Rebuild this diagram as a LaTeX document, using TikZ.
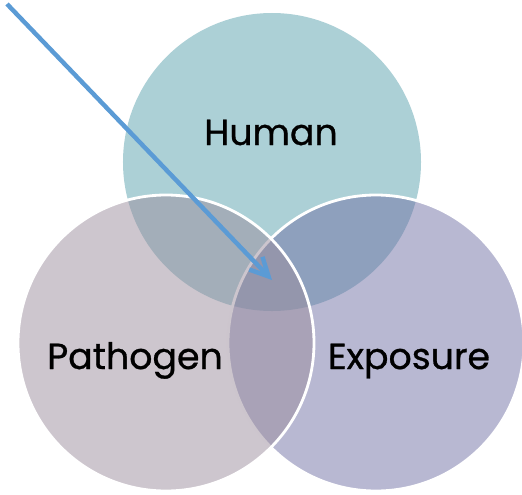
\documentclass[tikz,border=0pt]{standalone}
\usepackage{fontspec}
\setmainfont{Poppins}
\newfontfamily\tagfont{Poppins}[FakeBold=0.8]
\definecolor{HumanTeal}{RGB}{90, 161, 173}
\definecolor{PathoMauve}{RGB}{155, 141, 157}
\definecolor{ExpoLilac}{RGB}{113, 113, 165}
\definecolor{ArrowBlue}{RGB}{91, 155, 213}
\usetikzlibrary{arrows.meta}

\begin{document}
\begin{tikzpicture}[
    x=0.03cm, y=-0.03cm,
    ring/.style={circle, inner sep=0pt, minimum size=8.88cm, fill opacity=0.5,
                 draw=white, line width=2.4pt},
    tag/.style={anchor=base, font=\tagfont\fontsize{31}{36}\selectfont, text=black}
]
\useasboundingbox (0,0) rectangle (522,494);
% circles
\node[ring, fill=HumanTeal, draw=none, minimum size=8.94cm] (human) at (272,162) {};
\node[ring, fill=ExpoLilac] (expo) at (376,343) {};
\node[ring, fill=PathoMauve] (patho) at (166,343) {};
% labels
\node[tag] (lhuman) at (271,145) {Human};
\node[tag] (lpatho) at (135,369) {Pathogen};
\node[tag] (lexpo) at (409,369) {Exposure};
% pointer
\coordinate (start) at (7,4);
\coordinate (tip) at (272,280);
\draw[-{Straight Barb[length=0.55cm, width=0.55cm]}, ArrowBlue, line width=3.8pt]
    (start) -- (tip);
\end{tikzpicture}
\end{document}
